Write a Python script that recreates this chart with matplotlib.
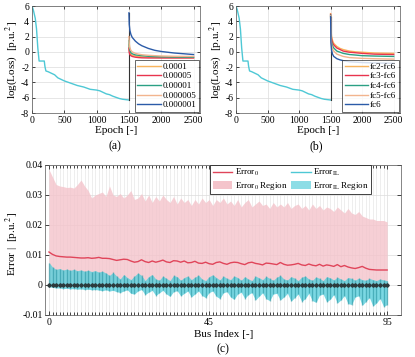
import numpy as np
import matplotlib
matplotlib.use('Agg')
import matplotlib.pyplot as plt
from matplotlib.lines import Line2D
from matplotlib.patches import Patch

plt.rcParams['font.family'] = ['Liberation Serif', 'DejaVu Serif']
plt.rcParams['mathtext.fontset'] = 'stix'
plt.rcParams['axes.unicode_minus'] = False

# ---- (a)/(b) training curve, epochs 0..1500
pre_epoch = [0, 20, 50, 70, 90, 110, 150, 190, 200, 215, 250, 300, 350, 400, 450, 500,
             600, 700, 800, 900, 1000, 1050, 1100, 1150, 1200, 1250, 1300, 1350, 1400, 1450, 1500]
pre_loss = [6.0, 5.5, 4.4, 3.0, 0.5, -1.2, -1.2, -1.2, -1.9, -2.5, -2.6, -2.8, -3.0, -3.4, -3.6, -3.8,
            -4.1, -4.4, -4.6, -4.9, -5.0, -5.1, -5.3, -5.5, -5.6, -5.8, -5.95, -6.1, -6.2, -6.25, -6.3]

# ---- (a) fine tuning with different learning rates
post_epoch = [1500, 1505, 1515, 1530, 1550, 1600, 1650, 1700, 1800, 1900, 2000, 2200, 2500]
lr_labels = ['0.0001', '0.00005', '0.00001', '0.000005', '0.000001']
lr_loss = [
    [1.0, 0.3, -0.1, -0.3, -0.45, -0.55, -0.6, -0.65, -0.7, -0.72, -0.74, -0.75, -0.75],
    [0.5, -0.1, -0.35, -0.5, -0.6, -0.7, -0.75, -0.78, -0.8, -0.8, -0.8, -0.8, -0.8],
    [1.5, 0.7, 0.2, -0.1, -0.25, -0.4, -0.45, -0.5, -0.58, -0.62, -0.65, -0.68, -0.7],
    [2.0, 1.1, 0.5, 0.2, 0.0, -0.2, -0.3, -0.38, -0.45, -0.5, -0.54, -0.58, -0.6],
    [5.1, 3.6, 2.8, 2.3, 1.9, 1.4, 1.05, 0.8, 0.45, 0.2, 0.05, -0.15, -0.35],
]

# ---- (b) fine tuning with different frozen layers
fc_labels = ['fc2-fc6', 'fc3-fc6', 'fc4-fc6', 'fc5-fc6', 'fc6']
fc_loss = [
    [5.0, 3.0, 2.0, 1.5, 1.1, 0.7, 0.45, 0.3, 0.1, 0.0, -0.05, -0.15, -0.2],
    [4.9, 2.6, 1.7, 1.2, 0.9, 0.5, 0.3, 0.1, -0.05, -0.12, -0.2, -0.3, -0.35],
    [4.8, 2.2, 1.3, 0.8, 0.5, 0.1, -0.05, -0.2, -0.35, -0.42, -0.5, -0.55, -0.6],
    [4.7, 1.8, 0.9, 0.4, 0.1, -0.3, -0.45, -0.6, -0.75, -0.8, -0.85, -0.9, -0.95],
    [4.6, 1.2, 0.2, -0.3, -0.6, -0.9, -1.05, -1.15, -1.3, -1.35, -1.4, -1.45, -1.5],
]

line_colors = ['#F9B45C', '#E8344E', '#2BA084', '#F2B48E', '#2B5BA8']
cyan = '#4EC8D5'

# ---- (c) errors per bus (x1e-3)
bus = np.arange(96)
err0 = [11.0, 10.2, 9.7, 9.5, 9.4, 9.3, 9.3, 9.2, 9.1, 9.0,
        9.0, 9.1, 8.9, 9.0, 9.2, 8.9, 8.9, 8.8, 8.5, 8.2,
        8.4, 8.6, 8.5, 8.0, 7.6, 7.8, 8.4, 7.8, 7.5, 8.0,
        7.6, 7.9, 8.3, 7.7, 7.5, 8.1, 8.0, 7.6, 8.0, 7.4,
        7.5, 7.9, 7.3, 7.2, 7.6, 7.1, 6.9, 7.5, 7.7, 7.2,
        6.9, 7.4, 7.6, 7.5, 7.1, 6.8, 7.4, 7.6, 7.2, 7.0,
        6.7, 7.3, 7.2, 7.0, 6.8, 7.5, 6.9, 6.6, 6.7, 6.9,
        7.2, 6.7, 6.5, 7.0, 6.6, 6.4, 6.9, 6.3, 6.7, 6.5,
        6.2, 6.8, 6.1, 6.5, 6.0, 5.7, 5.5, 5.8, 6.2, 5.6,
        5.2, 5.1, 5.0, 5.0, 5.0, 5.0]
err0_up = [38.5, 36.0, 33.5, 33.0, 32.8, 32.5, 32.6, 32.3, 33.5, 35.0,
           33.0, 31.5, 29.0, 30.0, 30.5, 31.0, 29.5, 33.0, 30.0, 29.5,
           30.5, 29.0, 30.0, 31.5, 28.5, 29.0, 30.5, 28.0, 30.0, 27.5,
           29.5, 28.0, 30.0, 28.5, 27.5, 29.5, 27.0, 29.0, 27.5, 28.5,
           26.5, 28.5, 27.0, 29.0, 27.5, 28.5, 26.5, 28.5, 27.5, 29.0,
           27.0, 28.0, 26.5, 28.5, 26.0, 27.5, 28.5, 26.0, 27.0, 28.0,
           26.5, 27.0, 25.5, 27.5, 26.0, 27.0, 26.0, 27.5, 25.5, 26.5,
           27.0, 25.5, 26.5, 25.0, 27.0, 25.5, 26.5, 25.0, 26.0, 25.5,
           24.5, 26.0, 25.0, 24.0, 25.5, 24.0, 23.5, 24.5, 23.0, 22.5,
           22.0, 22.0, 21.5, 21.5, 21.5, 21.0]
err0_low = 0.0
errIL = [0.1, 0.0, 0.1, -0.1, 0.0, 0.1, 0.0, -0.1, 0.0, 0.1,
         0.0, -0.1, 0.0, 0.1, 0.0, -0.1, 0.0, 0.1, 0.0, -0.1,
         0.0, 0.1, 0.0, -0.1, 0.0, 0.1, 0.0, -0.1, 0.0, 0.1,
         0.0, -0.1, 0.0, 0.1, 0.0, -0.1, 0.0, 0.1, 0.0, -0.1,
         0.0, 0.1, 0.0, -0.1, 0.0, 0.1, 0.0, -0.1, 0.0, 0.1,
         0.0, -0.1, 0.0, 0.1, 0.0, -0.1, 0.0, 0.1, 0.0, -0.1,
         0.0, 0.1, 0.0, -0.1, 0.0, 0.1, 0.0, -0.1, 0.0, 0.1,
         0.0, -0.1, 0.0, 0.1, 0.0, -0.1, 0.0, 0.1, 0.0, -0.1,
         0.0, 0.1, 0.0, -0.1, 0.0, 0.1, 0.0, -0.1, 0.0, 0.1,
         0.0, -0.1, 0.0, 0.1, 0.0, -0.1]
errIL_up = [7.5, 6.0, 5.2, 5.5, 5.0, 5.3, 4.9, 5.2, 4.8, 5.0,
            4.6, 4.9, 4.5, 4.8, 4.3, 4.6, 4.0, 3.2, 4.2, 3.0,
            2.0, 3.5, 2.5, 1.8, 3.0, 4.0, 3.2, 1.5, 2.8, 3.5,
            2.0, 1.6, 3.0, 2.2, 1.5, 3.2, 2.8, 1.6, 2.5, 3.0,
            1.8, 2.6, 3.3, 2.0, 1.5, 2.8, 3.4, 2.5, 1.7, 3.0,
            2.2, 1.8, 3.0, 2.5, 1.6, 2.8, 2.0, 1.5, 3.0, 2.4,
            1.8, 2.9, 2.2, 1.6, 2.6, 3.2, 2.0, 1.7, 2.8, 2.3,
            1.5, 2.6, 3.0, 2.0, 1.6, 2.7, 2.2, 1.5, 2.8, 2.4,
            1.7, 2.6, 2.0, 1.5, 2.5, 2.2, 1.6, 2.3, 1.8, 1.6,
            2.2, 1.8, 1.5, 2.0, 1.7, 1.5]
errIL_low = [-0.6, -0.8, -1.0, -1.0, -1.2, -1.1, -1.3, -1.2, -1.4, -1.3,
             -1.5, -1.4, -1.6, -1.5, -1.7, -1.9, -1.6, -2.0, -1.8, -2.2,
             -2.5, -2.0, -1.6, -2.8, -3.0, -2.0, -1.5, -3.2, -2.4, -1.8,
             -3.5, -2.6, -1.8, -3.0, -3.8, -2.2, -1.9, -3.6, -2.8, -2.0,
             -4.0, -3.0, -2.0, -3.5, -4.2, -2.5, -2.0, -3.8, -4.5, -2.6,
             -2.2, -4.0, -4.8, -3.0, -2.4, -4.5, -3.2, -2.5, -5.0, -3.8,
             -2.6, -4.6, -5.2, -3.0, -2.8, -5.0, -4.0, -2.8, -5.4, -4.2,
             -3.0, -5.5, -4.5, -2.8, -5.2, -5.8, -3.4, -3.0, -5.6, -4.8,
             -3.2, -6.0, -5.0, -3.5, -6.2, -6.5, -4.0, -3.6, -6.8, -5.5,
             -4.2, -7.0, -6.0, -4.5, -7.2, -6.5]

W, H = 415, 357
fig = plt.figure(figsize=(W / 100, H / 100), dpi=100)


def px_axes(l, t, r, b):
    return fig.add_axes([l / W, 1 - b / H, (r - l) / W, (b - t) / H])


def style_loss_axes(ax):
    ax.set_xlim(0, 2600)
    ax.set_ylim(-8, 6)
    ax.set_xticks([0, 500, 1000, 1500, 2000, 2500])
    ax.set_yticks([-8, -6, -4, -2, 0, 2, 4, 6])
    ax.grid(True, color='#dcdcdc', linewidth=0.5)
    ax.set_axisbelow(True)
    ax.tick_params(direction='in', top=True, right=True, labelsize=7, length=2.5, width=0.5, pad=2)
    for s in ax.spines.values():
        s.set_linewidth(0.5)
        s.set_color('#555555')
    ax.set_xlabel('Epoch [-]', fontsize=8, labelpad=1)
    ax.set_ylabel('log(Loss)  [p.u.$^2$]', fontsize=8, labelpad=1)


for k, (labels, curves) in enumerate([(lr_labels, lr_loss), (fc_labels, fc_loss)]):
    if k == 0:
        ax = px_axes(32, 6, 200, 113)
    else:
        ax = px_axes(236, 6, 400, 113)
    ax.plot(pre_epoch, pre_loss, color=cyan, lw=1.0)
    ax.plot([pre_epoch[-1], post_epoch[0]], [pre_loss[-1], curves[-1][0]], color='#333333', lw=0.8)
    for vals, c, lab in zip(curves, line_colors, labels):
        ax.plot(post_epoch, vals, color=c, lw=1.0, label=lab)
    style_loss_axes(ax)
    leg = ax.legend(loc='lower right', fontsize=6.5, frameon=True, fancybox=False,
                    borderaxespad=0.1, handlelength=2.6, handletextpad=0.2,
                    labelspacing=0.15, borderpad=0.3)
    leg.get_frame().set_edgecolor('#222222')
    leg.get_frame().set_linewidth(0.6)

fig.text(115 / W, 1 - 146 / H, '(a)', fontsize=8.5, ha='center', va='center')
fig.text(316 / W, 1 - 146 / H, '(b)', fontsize=8.5, ha='center', va='center')

# ---- (c)
ax = px_axes(45.4, 165, 401.4, 315)
scale = 1e-3
up0 = np.array(err0_up) * scale
ax.fill_between(bus, err0_low, up0, color='#F4C4CB', alpha=0.8, lw=0)
upIL = np.array(errIL_up) * scale
lowIL = np.array(errIL_low) * scale
ax.fill_between(bus, lowIL, upIL, color='#5ACFDC', alpha=0.8, lw=0)
ax.vlines(bus, lowIL, upIL, color='#1C8A98', alpha=0.5, lw=1.0)
ax.plot(bus, np.array(err0) * scale, color='#E0455A', lw=1.0)
ax.plot(bus, np.array(errIL) * scale, color=cyan, lw=1.0)
ax.plot(bus, np.array(errIL) * scale, ls='none', marker='D', ms=1.8, color='#2d3a3c')

ax.set_xlim(-1, 99)
ax.set_ylim(-0.01, 0.04)
ax.set_xticks([0, 45, 95])
ax.set_xticks(bus, minor=True)
ax.set_yticks([-0.01, 0, 0.01, 0.02, 0.03, 0.04])
ax.set_yticklabels(['-0.01', '0', '0.01', '0.02', '0.03', '0.04'])
ax.grid(True, which='major', color='#dcdcdc', linewidth=0.5)
ax.grid(True, which='minor', axis='x', color='#e8e8e8', linewidth=0.5)
ax.set_axisbelow(True)
ax.tick_params(direction='in', top=True, right=True, labelsize=7, length=3, width=0.5, pad=2)
ax.tick_params(which='minor', direction='in', top=True, bottom=True, length=2.5, width=0.5)
for s in ax.spines.values():
    s.set_linewidth(0.5)
    s.set_color('#555555')
ax.set_xlabel('Bus Index [-]', fontsize=8, labelpad=2)
ax.set_ylabel('Error |  [p.u.$^2$]', fontsize=8)
ax.yaxis.set_label_coords(-0.068, 0.47)

handles = [Line2D([], [], color='#E0455A', lw=1.0),
           Patch(facecolor='#F4C4CB', edgecolor='none'),
           Line2D([], [], color=cyan, lw=1.0),
           Patch(facecolor='#8DDDE6', edgecolor='none')]
labels = ['Error$_0$', 'Error$_0$ Region', 'Error$_{\\mathrm{IL}}$', 'Error$_{\\mathrm{IL}}$ Region']
leg = ax.legend(handles, labels, ncol=2, loc='upper right', bbox_to_anchor=(0.915, 1.0),
                fontsize=6.5, frameon=True, fancybox=False, borderaxespad=0.0,
                handlelength=2.2, handleheight=1.0, handletextpad=0.25, labelspacing=0.15,
                columnspacing=0.4, borderpad=0.25, framealpha=1)
leg.get_frame().set_edgecolor('#222222')
leg.get_frame().set_linewidth(0.6)

fig.text(223 / W, 1 - 349 / H, '(c)', fontsize=8.5, ha='center', va='center')

fig.savefig('out.png', dpi=100)
